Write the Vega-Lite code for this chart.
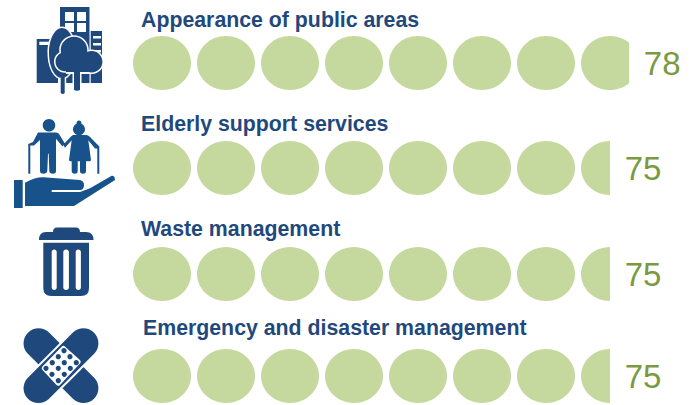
{
"$schema":"https://vega.github.io/schema/vega-lite/v6.json",
"width":690,"height":405,"padding":0,"autosize":{"type":"fit","contains":"padding"},
"background":"white","view":{"stroke":null},
"resolve":{"scale":{"shape":"independent"}},
"datasets":{
"circles":[
{"category":"Appearance of public areas","row":1,"at":5,"kind":"full"},{"category":"Appearance of public areas","row":1,"at":15,"kind":"full"},{"category":"Appearance of public areas","row":1,"at":25,"kind":"full"},{"category":"Appearance of public areas","row":1,"at":35,"kind":"full"},{"category":"Appearance of public areas","row":1,"at":45,"kind":"full"},{"category":"Appearance of public areas","row":1,"at":55,"kind":"full"},{"category":"Appearance of public areas","row":1,"at":65,"kind":"full"},{"category":"Appearance of public areas","row":1,"at":75,"kind":"part8"},
{"category":"Elderly support services","row":2.006,"at":5,"kind":"full"},{"category":"Elderly support services","row":2.006,"at":15,"kind":"full"},{"category":"Elderly support services","row":2.006,"at":25,"kind":"full"},{"category":"Elderly support services","row":2.006,"at":35,"kind":"full"},{"category":"Elderly support services","row":2.006,"at":45,"kind":"full"},{"category":"Elderly support services","row":2.006,"at":55,"kind":"full"},{"category":"Elderly support services","row":2.006,"at":65,"kind":"full"},{"category":"Elderly support services","row":2.006,"at":75,"kind":"part5"},
{"category":"Waste management","row":3.022,"at":5,"kind":"full"},{"category":"Waste management","row":3.022,"at":15,"kind":"full"},{"category":"Waste management","row":3.022,"at":25,"kind":"full"},{"category":"Waste management","row":3.022,"at":35,"kind":"full"},{"category":"Waste management","row":3.022,"at":45,"kind":"full"},{"category":"Waste management","row":3.022,"at":55,"kind":"full"},{"category":"Waste management","row":3.022,"at":65,"kind":"full"},{"category":"Waste management","row":3.022,"at":75,"kind":"part5"},
{"category":"Emergency and disaster management","row":4,"at":5,"kind":"full"},{"category":"Emergency and disaster management","row":4,"at":15,"kind":"full"},{"category":"Emergency and disaster management","row":4,"at":25,"kind":"full"},{"category":"Emergency and disaster management","row":4,"at":35,"kind":"full"},{"category":"Emergency and disaster management","row":4,"at":45,"kind":"full"},{"category":"Emergency and disaster management","row":4,"at":55,"kind":"full"},{"category":"Emergency and disaster management","row":4,"at":65,"kind":"full"},{"category":"Emergency and disaster management","row":4,"at":75,"kind":"part5"}
],
"labels":[
{"category":"Appearance of public areas","value":78,"row":1,"titleRow":0.597,"titleAt":1.72},
{"category":"Elderly support services","value":75,"row":2.006,"titleRow":1.594,"titleAt":1.72},
{"category":"Waste management","value":75,"row":3.022,"titleRow":2.600,"titleAt":1.72},
{"category":"Emergency and disaster management","value":75,"row":4,"titleRow":3.549,"titleAt":2.03}
],
"icons":[
{"row":1,"at":-10,"part":"tower","tone":"navy"},
{"row":1,"at":-10,"part":"windows","tone":"white"},
{"row":1,"at":-10,"part":"blockL","tone":"navy"},
{"row":1,"at":-10,"part":"notchL","tone":"white"},
{"row":1,"at":-10,"part":"blockR","tone":"navy"},
{"row":1,"at":-10,"part":"stripes","tone":"white"},
{"row":1,"at":-10,"part":"treeLhalo","tone":"white"},
{"row":1,"at":-10,"part":"treeL","tone":"navy"},
{"row":1,"at":-10,"part":"crownHalo","tone":"white"},
{"row":1,"at":-10,"part":"crown","tone":"navy"},
{"row":2.006,"at":-10,"part":"elders","tone":"blue"},
{"row":2.006,"at":-10,"part":"hand","tone":"blue"},
{"row":3.022,"at":-10,"part":"bin","tone":"navy"},
{"row":3.022,"at":-10,"part":"slots","tone":"white"},
{"row":4,"at":-10,"part":"capA","tone":"navy"},
{"row":4,"at":-10,"part":"capBhalo","tone":"white"},
{"row":4,"at":-10,"part":"capB","tone":"navy"},
{"row":4,"at":-10,"part":"pad","tone":"white"},
{"row":4,"at":-10,"part":"dots","tone":"navy"}
]
},
"layer":[
{"data":{"name":"circles"},
 "mark":{"type":"point","filled":true,"opacity":1,"size":3364,"strokeWidth":0},
 "encoding":{
  "x":{"field":"at","type":"quantitative","axis":null,"scale":{"domain":[-20.3125,87.5],"nice":false,"zero":false}},
  "y":{"field":"row","type":"quantitative","axis":null,"scale":{"domain":[0.396,4.278],"reverse":true,"nice":false,"zero":false}},
  "color":{"value":"#C5D89D"},
  "shape":{"field":"kind","type":"nominal","legend":null,"scale":{"domain":["full","part5","part8"],"range":[
   "M-1,0A1,0.931 0 1 0 1,0A1,0.931 0 1 0 -1,0Z",
   "M0,-0.931A1,0.931 0 0 0 0,0.931Z",
   "M0.662,-0.698A1,0.931 0 1 0 0.662,0.698Z"]}}
 }},
{"data":{"name":"icons"},
 "mark":{"type":"point","filled":true,"opacity":1,"size":4,"strokeWidth":0},
 "encoding":{
  "x":{"field":"at","type":"quantitative","axis":null,"scale":{"domain":[-20.3125,87.5],"nice":false,"zero":false}},
  "y":{"field":"row","type":"quantitative","axis":null,"scale":{"domain":[0.396,4.278],"reverse":true,"nice":false,"zero":false}},
  "color":{"field":"tone","type":"nominal","legend":null,"scale":{"domain":["navy","blue","white"],"range":["#1F497D","#17528A","#FFFFFF"]}},
  "shape":{"field":"part","type":"nominal","legend":null,"scale":{"domain":["tower","windows","blockL","notchL","blockR","stripes","treeLhalo","treeL","crownHalo","crown","elders","hand","bin","slots","capA","capBhalo","capB","pad","dots"],"range":[
   "M-6,-56H23.5V20H-6Z",
   "M-1,-51H8V-42H-1ZM11,-51H20V-42H11ZM-1,-40H8V-31H-1ZM11,-40H20V-31H11Z",
   "M-29.3,-24H-8V20H-29.3Z",
   "M-26.7,-21.3H-17V-18H-26.7Z",
   "M24.7,-32H36V20H24.7Z",
   "M27,-27H35V-24.5H27ZM27,-20H35V-17.5H27ZM27,-13H35V-10.5H27Z",
   "M-18.5,-10a14.5,26.5 0 1 0 29,0a14.5,26.5 0 1 0 -29,0ZM-6.8,4V33H0.2V4Z",
   "M-17,-10a13,25 0 1 0 26,0a13,25 0 1 0 -26,0ZM-5.3,4V30Q-3.3,32 -1.3,30V4Z",
   "M-6.8,-13a14.8,14.8 0 1 0 29.6,0a14.8,14.8 0 1 0 -29.6,0ZM-12,-1.3a11,11 0 1 0 22,0a11,11 0 1 0 -22,0ZM13.5,-1.3a12.2,12.2 0 1 0 24.4,0a12.2,12.2 0 1 0 -24.4,0ZM0,-10V11H6.5V29H15.5V11H26V-10Z",
   "M-5.3,-13a13.3,13.3 0 1 0 26.6,0a13.3,13.3 0 1 0 -26.6,0ZM-10.5,-1.3a9.5,9.5 0 1 0 19,0a9.5,9.5 0 1 0 -19,0ZM15,-1.3a10.7,10.7 0 1 0 21.4,0a10.7,10.7 0 1 0 -21.4,0ZM0,-10V9H8V27Q11,28.5 14,27V9H26V-10Z",
   "M-23.3,-42.7a6.3,6.3 0 1 1 12.6,0a6.3,6.3 0 1 1 -12.6,0ZM-28,-35.5H-10Q-8,-35.5 -7,-34L-1,-24.3L-3.7,-21.7L-10,-29.3V3Q-10,5.7 -13,5.7Q-16.5,5.7 -16.7,3L-17.3,-14.3H-18L-18.7,3Q-19.3,5.7 -22.5,5.7Q-26,5.7 -26,3V-28L-32,-22.5H-35.7V5.7H-37.7V-24L-33,-26ZM7,-38.7a6,6 0 1 1 12,0a6,6 0 1 1 -12,0ZM10.5,-45a2.5,2.5 0 1 1 5,0a2.5,2.5 0 1 1 -5,0ZM7,-33H20Q22,-33 24,-31L33.3,-21.5V5.7H31.3V-19.5H29L22.3,-27.7L25,-8Q25,-6.7 23,-6.7H20V3Q20,5.7 17,5.7Q14,5.7 14,3V-6.7H11.7V3Q11.7,5.7 8.7,5.7Q5.7,5.7 5.7,3V-6.7H5Q3,-6.7 3,-8L5.7,-27.7L-1,-20.3L-2.7,-23.3L5,-31.5Z",
   "M-52,12H-43.3V40H-52ZM-41,14.7Q-30,9 -22.7,9.3L14,12Q18,13 18,17Q18,22 14,22H-14.3V24H14L24,20.3L45.7,7.7Q49,7.5 49,12L8,38H-41Z",
   "M-27,-34Q-27,-42 -20,-42H-13Q-13,-46.5 -9,-46.5H10Q14,-46.5 14,-42H20Q27.5,-42 27.5,-34ZM-22.7,-31.3H23V14Q23,22 15,22H-14.7Q-22.7,22 -22.7,14Z",
   "M-14.3,-22a2.5,2.5 0 0 1 5,0V13.5a2.5,2.5 0 0 1 -5,0ZM-2.7,-22a2.8,2.5 0 0 1 5.6,0V13.5a2.8,2.5 0 0 1 -5.6,0ZM9.7,-22a2.6,2.5 0 0 1 5.2,0V13.5a2.6,2.5 0 0 1 -5.2,0Z",
   "M-17.2,-43.7L28.4,1.9A15,15 0 0 1 7.2,23.1L-38.4,-22.5A15,15 0 0 1 -17.2,-43.7Z",
   "M29.8,-21.1L-15.8,24.5A17,17 0 0 1 -39.8,0.5L5.8,-45.1A17,17 0 0 1 29.8,-21.1Z",
   "M28.4,-22.5L-17.2,23.1A15,15 0 0 1 -38.4,1.9L7.2,-43.7A15,15 0 0 1 28.4,-22.5Z",
   "M-23.6,-9.5L-4.4,-29.2Q-2.7,-31 -0.9,-29.3L13.9,-16Q15.7,-14.3 14,-12.5L-6,8.9Q-7.7,10.7 -9.5,9L-23.5,-6Q-25.3,-7.7 -23.6,-9.5Z",
   "M-4.6,-25.3a2.6,2.6 0 1 0 5.2,0a2.6,2.6 0 1 0 -5.2,0ZM-10.3,-19.3a2.6,2.6 0 1 0 5.2,0a2.6,2.6 0 1 0 -5.2,0ZM1.4,-19.3a2.6,2.6 0 1 0 5.2,0a2.6,2.6 0 1 0 -5.2,0ZM-16.3,-13.3a2.6,2.6 0 1 0 5.2,0a2.6,2.6 0 1 0 -5.2,0ZM-4.3,-13.3a2.6,2.6 0 1 0 5.2,0a2.6,2.6 0 1 0 -5.2,0ZM7.7,-13.3a2.6,2.6 0 1 0 5.2,0a2.6,2.6 0 1 0 -5.2,0ZM-22.6,-7.7a2.6,2.6 0 1 0 5.2,0a2.6,2.6 0 1 0 -5.2,0ZM-10.3,-7.7a2.6,2.6 0 1 0 5.2,0a2.6,2.6 0 1 0 -5.2,0ZM1.7,-7.7a2.6,2.6 0 1 0 5.2,0a2.6,2.6 0 1 0 -5.2,0ZM-16.6,-1.7a2.6,2.6 0 1 0 5.2,0a2.6,2.6 0 1 0 -5.2,0ZM-4.3,-1.7a2.6,2.6 0 1 0 5.2,0a2.6,2.6 0 1 0 -5.2,0ZM-10.3,4.7a2.6,2.6 0 1 0 5.2,0a2.6,2.6 0 1 0 -5.2,0Z"
  ]}}
 }},
{"data":{"name":"labels"},
 "mark":{"type":"text","align":"left","baseline":"middle","font":"Liberation Sans","fontWeight":"bold","fontSize":21.3,"color":"#1F497D"},
 "encoding":{
  "x":{"field":"titleAt","type":"quantitative","axis":null,"scale":{"domain":[-20.3125,87.5],"nice":false,"zero":false}},
  "y":{"field":"titleRow","type":"quantitative","axis":null,"scale":{"domain":[0.396,4.278],"reverse":true,"nice":false,"zero":false}},
  "text":{"field":"category","type":"nominal"}
 }},
{"data":{"name":"labels"},
 "mark":{"type":"text","align":"center","baseline":"middle","dx":33,"dy":2,"font":"Liberation Sans","fontSize":33,"color":"#7A9A3F"},
 "encoding":{
  "x":{"field":"value","type":"quantitative","axis":null,"scale":{"domain":[-20.3125,87.5],"nice":false,"zero":false}},
  "y":{"field":"row","type":"quantitative","axis":null,"scale":{"domain":[0.396,4.278],"reverse":true,"nice":false,"zero":false}},
  "text":{"field":"value","type":"quantitative"}
 }}
]
}
